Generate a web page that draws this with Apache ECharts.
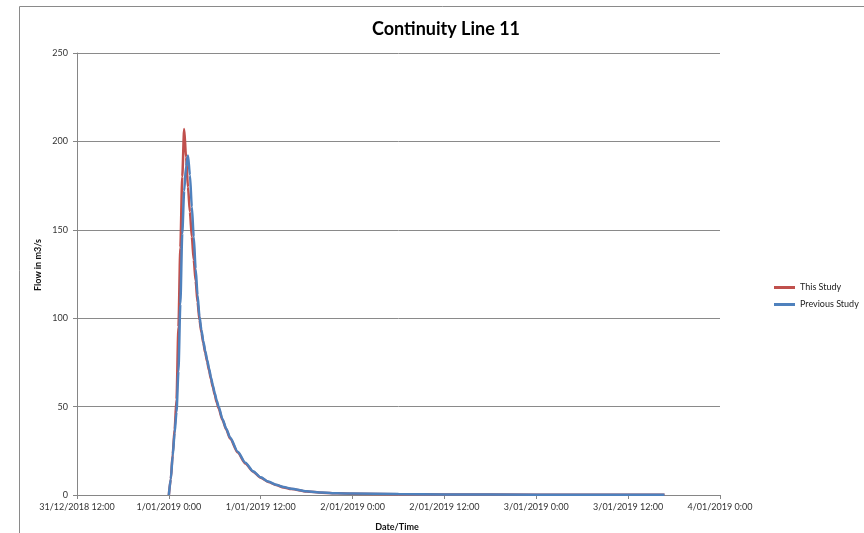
<!DOCTYPE html>
<html>
<head>
<meta charset="utf-8">
<script src="https://cdn.jsdelivr.net/npm/echarts@6/dist/echarts.min.js"></script>
<style>
html,body{margin:0;padding:0;background:#fff;}
#chart{width:864px;height:533px;}
</style>
</head>
<body>
<div id="chart"></div>
<script>
// Hours after 1/01/2019 0:00
const hours = [0,0.25,0.5,0.75,1,1.25,1.5,1.75,2,2.25,2.5,2.75,3,3.25,3.5,3.75,4,4.25,4.5,4.75,5,5.25,5.5,5.75,6,6.25,6.5,7,7.5,8,9,10,11,12,13,14,15,16,18,20,22,24,30,36,48,60,64.75];
const thisStudy = [0,9,23,37,54,95,140,180,207,191,174,160,146,133,121,109,99,92,86,80.5,75.5,70.5,65.5,61,56.5,52.5,49,42.5,37,32,24,17.8,13.2,9.8,7.4,5.6,4.3,3.4,2.0,1.3,0.95,0.75,0.45,0.3,0.2,0.12,0.08];
const previousStudy = [0,9,22,35,47,70,108,148,172,186,192,181,163,146,128,113,101,93.5,87,81.5,76.5,71.5,66.5,62,57.5,53.5,50,43,37.5,32.5,24.5,18.2,13.5,10,7.6,5.8,4.5,3.5,2.1,1.4,1.0,0.8,0.5,0.35,0.2,0.15,0.1];
const xTickLabels = ['31/12/2018 12:00','1/01/2019 0:00','1/01/2019 12:00','2/01/2019 0:00','2/01/2019 12:00','3/01/2019 0:00','3/01/2019 12:00','4/01/2019 0:00'];
const seriesNames = ['This Study','Previous Study'];
const titleText = 'Continuity Line 11';
const yTitle = 'Flow in m3/s';
const xTitle = 'Date/Time';

const FONT = 'Lato, "Open Sans", sans-serif';
const chart = echarts.init(document.getElementById('chart'), null, {renderer:'canvas'});
const pairs = arr => hours.map((h,i)=>[h, arr[i]]);
chart.setOption({
  animation:false,
  backgroundColor:'#fff',
  title:{text:titleText,left:441,textAlign:'center',top:15,textStyle:{fontFamily:FONT,fontWeight:'bold',fontSize:18,color:'#000'}},
  grid:{left:77,right:144,top:53,bottom:38,containLabel:false},
  legend:{orient:'vertical',left:769,top:278,itemWidth:21,itemHeight:3,itemGap:8,icon:'rect',
    textStyle:{fontFamily:FONT,fontSize:9,color:'#222'},data:seriesNames},
  xAxis:{type:'value',min:-12,max:72,interval:12,
    axisLine:{show:true,onZero:false,lineStyle:{color:'#868686'}},
    axisTick:{show:true,inside:false,length:4,lineStyle:{color:'#868686'}},
    splitLine:{show:false},
    axisLabel:{margin:8,fontFamily:FONT,fontSize:9,color:'#333',
      formatter:v=>xTickLabels[Math.round((v+12)/12)]||''}},
  yAxis:{type:'value',min:0,max:250,interval:50,
    axisLine:{show:true,onZero:false,lineStyle:{color:'#868686'}},
    axisTick:{show:true,inside:false,length:4,lineStyle:{color:'#868686'}},
    splitLine:{show:true,lineStyle:{color:'#8a8a8a',width:1}},
    axisLabel:{margin:9,fontFamily:FONT,fontSize:9,color:'#333'}},
  graphic:[
    {type:'rect',shape:{x:19.5,y:6.5,width:900,height:600},style:{fill:null,stroke:'#8a8a8a',lineWidth:1},silent:true,z:-1},
    {type:'text',x:38,y:265,rotation:Math.PI/2,style:{text:yTitle,fontFamily:FONT,fontWeight:'bold',fontSize:9,fill:'#111',textAlign:'center',textVerticalAlign:'middle'}},
    {type:'text',x:397,y:527,style:{text:xTitle,fontFamily:FONT,fontWeight:'bold',fontSize:9,fill:'#111',textAlign:'center',textVerticalAlign:'middle'}}
  ],
  series:[
    {name:seriesNames[0],type:'line',data:pairs(thisStudy),showSymbol:false,symbol:'none',smooth:0.25,smoothMonotone:'x',
      lineStyle:{color:'#c0504d',width:2.5},itemStyle:{color:'#c0504d'},z:2},
    {name:seriesNames[1],type:'line',data:pairs(previousStudy),showSymbol:false,symbol:'none',smooth:0.25,smoothMonotone:'x',
      lineStyle:{color:'#4f81bd',width:2.5},itemStyle:{color:'#4f81bd'},z:3}
  ]
});
</script>
</body>
</html>
